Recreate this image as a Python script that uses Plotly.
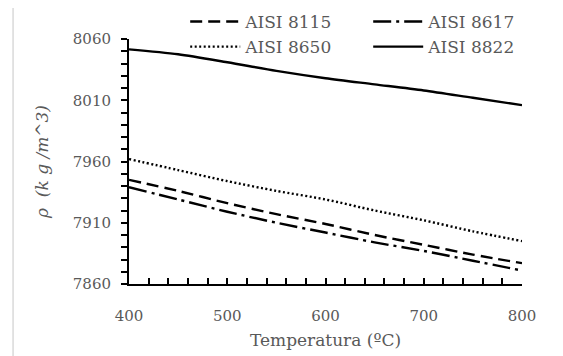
import plotly.graph_objects as go

temps = [400, 450, 500, 550, 600, 650, 700, 750, 800]
aisi_8115 = [7945, 7936, 7926, 7917, 7909, 7900, 7892, 7884, 7877]
aisi_8617 = [7939, 7929, 7919, 7910, 7902, 7894, 7887, 7879, 7871]
aisi_8650 = [7962, 7953, 7944, 7936, 7929, 7920, 7912, 7903, 7895]
aisi_8822 = [8051.5, 8047.5, 8041, 8034, 8028, 8023, 8018, 8012, 8006]
x_ticks = [400, 500, 600, 700, 800]
y_ticks = [7860, 7910, 7960, 8010, 8060]

series = [
    ("AISI 8115", aisi_8115, "12px,6px"),
    ("AISI 8617", aisi_8617, "18px,5px,3px,5px"),
    ("AISI 8650", aisi_8650, "2px,2.5px"),
    ("AISI 8822", aisi_8822, "solid"),
]

FONT = "DejaVu Serif"
GRAY = "#595959"

fig = go.Figure()
for name, vals, dash in series:
    fig.add_trace(go.Scatter(x=temps, y=vals, mode="lines", name=name,
                             line=dict(color="black", width=2.4, dash=dash, shape="spline",
                                       smoothing=0.8)))

fig.update_layout(
    width=555, height=348,
    margin=dict(l=121, r=41, t=31, b=72, autoexpand=False),
    paper_bgcolor="white", plot_bgcolor="white",
    font=dict(family=FONT, color=GRAY, size=15),
    showlegend=True,
    legend=dict(orientation="h", x=0.143, xanchor="left", y=1.143, yanchor="top",
                entrywidth=118, itemwidth=50, font=dict(size=17, color=GRAY, family=FONT),
                bgcolor="rgba(0,0,0,0)"),
    xaxis=dict(range=[400, 800], tickvals=x_ticks, ticks="inside", ticklen=6,
               tickwidth=1.5, tickcolor="black", showline=True, linecolor="black",
               linewidth=2, showgrid=False, zeroline=False, ticklabelstandoff=17,
               tickfont=dict(size=15, color=GRAY),
               minor=dict(dtick=20, ticks="inside", ticklen=6, tickwidth=1.5, tickcolor="black"),
               title=dict(text="Temperatura (ºC)", font=dict(size=17, color=GRAY), standoff=10)),
    yaxis=dict(range=[7860, 8060], tickvals=y_ticks, ticks="outside", ticklen=6,
               tickwidth=1.5, tickcolor="black", showline=True, linecolor="black",
               linewidth=2, showgrid=False, zeroline=False, ticklabelstandoff=7,
               tickfont=dict(size=15, color=GRAY),
               minor=dict(dtick=10, ticks="outside", ticklen=6, tickwidth=1.5, tickcolor="black"),
               title=dict(text="<i>ρ  (k g /m^3)</i>", font=dict(size=17, color=GRAY), standoff=20)),
    shapes=[dict(type="rect", xref="paper", yref="paper",
                 x0=-0.295, x1=1.10, y0=-0.31, y1=1.13,
                 line=dict(color="#d9d9d9", width=1.5), fillcolor="rgba(0,0,0,0)")],
)

fig.write_html("out.html")
